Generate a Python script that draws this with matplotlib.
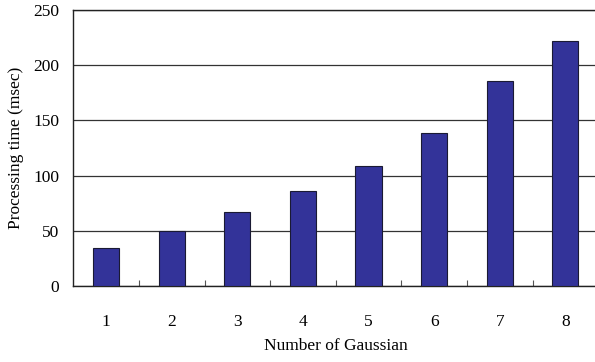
import matplotlib.pyplot as plt
import numpy as np

# --- data ---
n_gauss = ['1', '2', '3', '4', '5', '6', '7', '8']
proc_time = [34, 50, 67, 86, 109, 139, 186, 222]

plt.rcParams['font.family'] = ['Liberation Serif', 'DejaVu Serif']

fig = plt.figure(figsize=(5.95, 3.62), dpi=100)
ax = fig.add_axes([73.3 / 595, 1 - 286 / 362, 524.8 / 595, 276 / 362])

x = np.arange(1, len(n_gauss) + 1)
ax.bar(x, proc_time, width=0.4, color='#333399', edgecolor='#1a1a33',
       linewidth=0.8, zorder=3)

ax.set_xlim(0.5, len(n_gauss) + 0.5)
ax.set_ylim(0, 250)
ax.set_yticks(range(0, 251, 50))
ax.set_xticks(x)
ax.set_xticklabels(n_gauss)
ax.set_xticks(np.arange(1.5, len(n_gauss) + 0.5, 1), minor=True)

ax.tick_params(axis='y', length=0, pad=10, labelsize=12.5)
ax.tick_params(axis='x', which='major', length=0, pad=20, labelsize=12.5)
ax.tick_params(axis='x', which='minor', direction='in', length=4,
               width=0.8, color='#555555')

ax.grid(axis='y', color='#333333', linewidth=0.9, zorder=0)
for s in ['left', 'bottom', 'top']:
    ax.spines[s].set_color('#222222')
    ax.spines[s].set_linewidth(1.0)
ax.spines['right'].set_visible(False)

ax.set_xlabel('Number of Gaussian', fontsize=12.5, labelpad=6)
ax.set_ylabel('Processing time (msec)', fontsize=12.5, labelpad=7)

fig.savefig('out.png', dpi=100)
